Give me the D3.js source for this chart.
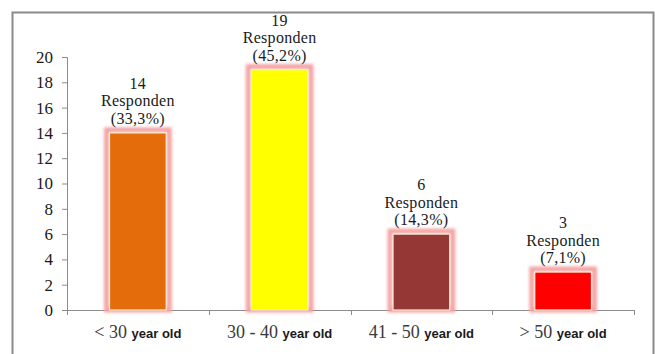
<!DOCTYPE html>
<html>
<head>
<meta charset="utf-8">
<script src="https://cdn.jsdelivr.net/npm/d3@7"></script>
<style>
  html, body { margin: 0; padding: 0; background: #fff; }
  svg { display: block; }
</style>
</head>
<body>
<svg id="chart" width="655" height="354"></svg>
<script>
// Respondents by age group
const groups = ["< 30", "30 - 40", "41 - 50", "> 50"];
const unitLabel = "year old";
const counts = [14, 19, 6, 3];
const percents = ["33,3%", "45,2%", "14,3%", "7,1%"];
const barColors = ["#E46C0A", "#FFFF00", "#953735", "#FF0000"];
const yTicks = [0, 2, 4, 6, 8, 10, 12, 14, 16, 18, 20];

const SERIF = "'Liberation Serif', 'Times New Roman', serif";
const SANS = "'Liberation Sans', Arial, sans-serif";

const svg = d3.select("#chart");
const plot = { left: 67, right: 634, top: 57, bottom: 310 };

// outer frame
svg.append("rect")
  .attr("x", 12.5).attr("y", 12.5)
  .attr("width", 641).attr("height", 360)
  .attr("fill", "#fff")
  .attr("stroke", "#8a8a8a").attr("stroke-width", 2);

const x = d3.scaleBand()
  .domain(groups)
  .range([plot.left, plot.right])
  .paddingInner(0.6)
  .paddingOuter(0.3);

const y = d3.scaleLinear()
  .domain([0, 20])
  .range([plot.bottom, plot.top]);

// soft pink glow around bars
const defs = svg.append("defs");
const glow = defs.append("filter").attr("id", "glow")
  .attr("x", "-30%").attr("y", "-30%").attr("width", "160%").attr("height", "160%");
glow.append("feGaussianBlur").attr("stdDeviation", 1.6);

// y axis
const yAxis = svg.append("g")
  .attr("transform", `translate(${plot.left},0)`)
  .call(d3.axisLeft(y).tickValues(yTicks).tickSize(5).tickPadding(9));
yAxis.attr("font-family", null).attr("font-size", null);
yAxis.select(".domain").attr("stroke", "#8c8c8c");
yAxis.selectAll(".tick line").attr("stroke", "#8c8c8c");
yAxis.selectAll(".tick text")
  .style("font-family", SERIF)
  .style("font-size", "17px")
  .attr("fill", "#1a1a1a");

// x axis with ticks at category boundaries
svg.append("line")
  .attr("x1", plot.left).attr("x2", plot.right)
  .attr("y1", plot.bottom + 0.5).attr("y2", plot.bottom + 0.5)
  .attr("stroke", "#8c8c8c");
const edges = d3.range(groups.length + 1).map(i => plot.left + i * x.step());
svg.selectAll(".xtick").data(edges).join("line")
  .attr("class", "xtick")
  .attr("x1", d => Math.round(d) + 0.5).attr("x2", d => Math.round(d) + 0.5)
  .attr("y1", plot.bottom).attr("y2", plot.bottom + 5)
  .attr("stroke", "#8c8c8c");

// bars
const bars = svg.append("g");
groups.forEach((g, i) => {
  const bx = x(g), bw = x.bandwidth();
  const by = y(counts[i]), bh = y(0) - y(counts[i]);
  bars.append("rect")
    .attr("x", bx - 3).attr("y", by - 3)
    .attr("width", bw + 6).attr("height", bh + 3)
    .attr("fill", "none")
    .attr("stroke", "#F4A3A3").attr("stroke-width", 5)
    .attr("filter", "url(#glow)");
  bars.append("rect")
    .attr("x", bx).attr("y", by)
    .attr("width", bw).attr("height", bh)
    .attr("fill", barColors[i])
    .attr("stroke", "#FCEBD8").attr("stroke-width", 1.2);
});

// value labels above bars
groups.forEach((g, i) => {
  const cx = x(g) + x.bandwidth() / 2;
  const top = y(counts[i]);
  const lines = [String(counts[i]), "Responden", `(${percents[i]})`];
  lines.forEach((t, j) => {
    svg.append("text")
      .attr("x", cx)
      .attr("y", top - 9 - (2 - j) * 17.5)
      .attr("text-anchor", "middle")
      .style("font-family", SERIF)
      .style("font-size", "16px")
      .style("letter-spacing", "0.3px")
      .attr("fill", "#1a1a1a")
      .text(t);
  });
});

// category labels
groups.forEach((g, i) => {
  const cx = x(g) + x.bandwidth() / 2;
  const t = svg.append("text")
    .attr("x", cx).attr("y", 338)
    .attr("text-anchor", "middle");
  t.append("tspan")
    .style("font-family", SERIF)
    .style("font-size", "18px")
    .attr("fill", "#3a3a3a")
    .text(g + " ");
  t.append("tspan")
    .style("font-family", SANS)
    .style("font-weight", "bold")
    .style("font-size", "13px")
    .attr("fill", "#1a1a1a")
    .text(unitLabel);
});
</script>
</body>
</html>
